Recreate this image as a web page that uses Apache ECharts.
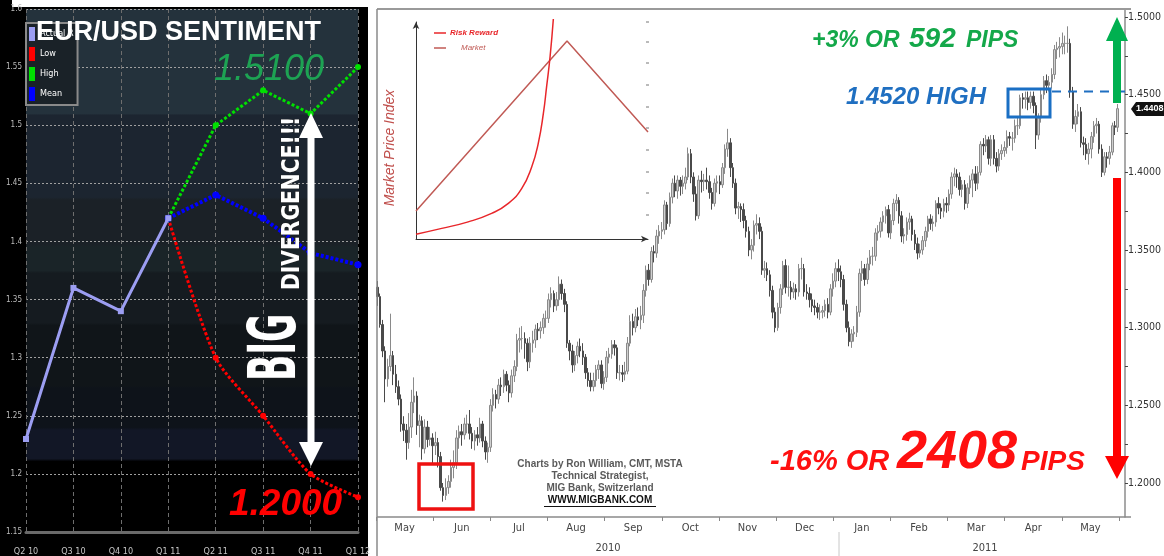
<!DOCTYPE html>
<html><head><meta charset="utf-8">
<script src="https://cdn.jsdelivr.net/npm/echarts@6/dist/echarts.min.js"></script>
<style>html,body{margin:0;padding:0;background:#fff}#c{width:1164px;height:556px}</style>
</head><body><div id="c"></div><script>
// ---------- LEFT PANEL DATA (EUR/USD sentiment) ----------
const quarters = ['Q2 10','Q3 10','Q4 10','Q1 11','Q2 11','Q3 11','Q4 11','Q1 12'];
const actualRate = [1.23, 1.36, 1.34, 1.42, null, null, null, null];
const lowForecast = [null, null, null, 1.42, 1.30, 1.25, 1.20, 1.18];
const highForecast = [null, null, null, 1.42, 1.50, 1.53, 1.51, 1.55];
const meanForecast = [null, null, null, 1.42, 1.44, 1.42, 1.39, 1.38];

// ---------- RIGHT PANEL DATA (daily EUR/USD, [open, close, low, high]) ----------
const may10 = [[1.326,1.320,1.314,1.330],[1.320,1.302,1.300,1.322],[1.302,1.285,1.281,1.305],[1.285,1.267,1.252,1.288],[1.267,1.275,1.262,1.280],[1.275,1.282,1.272,1.309],[1.282,1.270,1.263,1.285],[1.270,1.262,1.258,1.276],[1.262,1.254,1.250,1.266],[1.254,1.238,1.233,1.257],[1.238,1.234,1.227,1.243],[1.234,1.226,1.215,1.238],[1.226,1.236,1.222,1.245],[1.236,1.252,1.229,1.260],[1.252,1.256,1.245,1.268],[1.256,1.237,1.231,1.259],[1.237,1.240,1.223,1.244],[1.240,1.222,1.215,1.243],[1.222,1.236,1.219,1.241],[1.236,1.228,1.223,1.240],[1.228,1.229,1.224,1.236]];
const jun10 = [[1.229,1.224,1.212,1.232],[1.224,1.226,1.218,1.233],[1.226,1.217,1.210,1.229],[1.217,1.197,1.195,1.220],[1.197,1.192,1.188,1.200],[1.192,1.197,1.189,1.203],[1.197,1.201,1.193,1.205],[1.201,1.210,1.197,1.215],[1.210,1.213,1.203,1.221],[1.213,1.229,1.209,1.234],[1.229,1.233,1.222,1.237],[1.233,1.231,1.224,1.238],[1.231,1.238,1.228,1.242],[1.238,1.238,1.232,1.244],[1.238,1.232,1.228,1.247],[1.232,1.227,1.222,1.236],[1.227,1.231,1.221,1.234],[1.231,1.229,1.224,1.236],[1.229,1.238,1.226,1.242],[1.238,1.227,1.223,1.240],[1.227,1.220,1.215,1.230],[1.220,1.223,1.213,1.226]];
const jul10 = [[1.223,1.250,1.220,1.254],[1.250,1.257,1.246,1.261],[1.257,1.254,1.248,1.260],[1.254,1.263,1.251,1.267],[1.263,1.262,1.256,1.268],[1.262,1.270,1.258,1.273],[1.270,1.263,1.259,1.272],[1.263,1.258,1.252,1.266],[1.258,1.269,1.255,1.273],[1.269,1.275,1.265,1.279],[1.275,1.292,1.272,1.296],[1.292,1.293,1.284,1.300],[1.293,1.293,1.286,1.301],[1.293,1.290,1.280,1.297],[1.290,1.278,1.272,1.293],[1.278,1.290,1.274,1.294],[1.290,1.292,1.284,1.298],[1.292,1.299,1.287,1.302],[1.299,1.298,1.292,1.303],[1.298,1.300,1.293,1.304],[1.300,1.306,1.296,1.309],[1.306,1.306,1.300,1.311]];
const aug10 = [[1.306,1.318,1.303,1.322],[1.318,1.322,1.313,1.326],[1.322,1.314,1.310,1.324],[1.314,1.318,1.311,1.323],[1.318,1.328,1.314,1.333],[1.328,1.322,1.318,1.331],[1.322,1.315,1.310,1.325],[1.315,1.290,1.287,1.317],[1.290,1.285,1.279,1.292],[1.285,1.276,1.271,1.289],[1.276,1.282,1.272,1.285],[1.282,1.288,1.277,1.291],[1.288,1.285,1.281,1.293],[1.285,1.281,1.276,1.290],[1.281,1.271,1.267,1.283],[1.271,1.266,1.262,1.274],[1.266,1.262,1.259,1.271],[1.262,1.266,1.259,1.271],[1.266,1.273,1.262,1.276],[1.273,1.276,1.267,1.279],[1.276,1.264,1.261,1.279],[1.264,1.268,1.260,1.272]];
const sep10 = [[1.268,1.281,1.265,1.285],[1.281,1.283,1.277,1.287],[1.283,1.289,1.280,1.292],[1.289,1.287,1.282,1.292],[1.287,1.271,1.267,1.289],[1.271,1.271,1.266,1.276],[1.271,1.270,1.265,1.276],[1.270,1.272,1.266,1.278],[1.272,1.290,1.270,1.294],[1.290,1.304,1.288,1.308],[1.304,1.300,1.295,1.309],[1.300,1.307,1.297,1.312],[1.307,1.305,1.301,1.313],[1.305,1.308,1.299,1.314],[1.308,1.324,1.303,1.328],[1.324,1.337,1.320,1.340],[1.337,1.331,1.327,1.341],[1.331,1.349,1.329,1.352],[1.349,1.348,1.342,1.353],[1.348,1.359,1.345,1.363],[1.359,1.362,1.354,1.366],[1.362,1.363,1.357,1.368]];
const oct10 = [[1.363,1.379,1.360,1.382],[1.379,1.367,1.363,1.381],[1.367,1.384,1.365,1.387],[1.384,1.393,1.380,1.396],[1.393,1.388,1.384,1.398],[1.388,1.395,1.383,1.398],[1.395,1.391,1.385,1.397],[1.391,1.393,1.386,1.398],[1.393,1.397,1.389,1.403],[1.397,1.412,1.395,1.416],[1.412,1.397,1.393,1.415],[1.397,1.386,1.381,1.400],[1.386,1.372,1.369,1.391],[1.372,1.395,1.370,1.398],[1.395,1.394,1.387,1.401],[1.394,1.395,1.388,1.399],[1.395,1.394,1.389,1.403],[1.394,1.387,1.383,1.398],[1.387,1.380,1.376,1.390],[1.380,1.393,1.378,1.396],[1.393,1.394,1.387,1.398]];
const nov10 = [[1.394,1.392,1.386,1.398],[1.392,1.403,1.390,1.406],[1.403,1.415,1.399,1.418],[1.415,1.419,1.410,1.428],[1.419,1.403,1.397,1.422],[1.403,1.393,1.390,1.406],[1.393,1.377,1.373,1.396],[1.377,1.378,1.370,1.381],[1.378,1.376,1.368,1.380],[1.376,1.369,1.364,1.380],[1.369,1.362,1.358,1.372],[1.362,1.350,1.346,1.365],[1.350,1.353,1.344,1.357],[1.353,1.366,1.349,1.369],[1.366,1.367,1.360,1.373],[1.367,1.362,1.357,1.371],[1.362,1.337,1.334,1.365],[1.337,1.338,1.332,1.343],[1.338,1.334,1.330,1.342],[1.334,1.324,1.320,1.337],[1.324,1.310,1.306,1.327],[1.310,1.300,1.297,1.313]];
const dec10 = [[1.300,1.313,1.298,1.316],[1.313,1.325,1.309,1.328],[1.325,1.340,1.321,1.343],[1.340,1.326,1.322,1.344],[1.326,1.326,1.320,1.340],[1.326,1.323,1.318,1.330],[1.323,1.325,1.319,1.329],[1.325,1.323,1.318,1.328],[1.323,1.338,1.320,1.341],[1.338,1.338,1.331,1.345],[1.338,1.323,1.320,1.341],[1.323,1.322,1.318,1.328],[1.322,1.318,1.313,1.326],[1.318,1.314,1.310,1.322],[1.314,1.313,1.308,1.318],[1.313,1.310,1.306,1.316],[1.310,1.310,1.305,1.315],[1.310,1.311,1.306,1.314],[1.311,1.315,1.307,1.318],[1.315,1.310,1.306,1.319],[1.310,1.325,1.308,1.328],[1.325,1.330,1.320,1.335],[1.330,1.338,1.326,1.342]];
const jan11 = [[1.338,1.336,1.330,1.344],[1.336,1.331,1.326,1.340],[1.331,1.315,1.311,1.334],[1.315,1.300,1.297,1.318],[1.300,1.291,1.288,1.304],[1.291,1.296,1.287,1.299],[1.296,1.297,1.291,1.301],[1.297,1.310,1.294,1.314],[1.310,1.335,1.307,1.338],[1.335,1.338,1.330,1.343],[1.338,1.331,1.327,1.341],[1.331,1.341,1.328,1.345],[1.341,1.346,1.337,1.350],[1.346,1.346,1.340,1.352],[1.346,1.361,1.343,1.364],[1.361,1.362,1.356,1.366],[1.362,1.368,1.358,1.371],[1.368,1.372,1.362,1.375],[1.372,1.376,1.367,1.378],[1.376,1.361,1.358,1.379],[1.361,1.369,1.357,1.373]];
const feb11 = [[1.369,1.380,1.366,1.383],[1.380,1.382,1.375,1.386],[1.382,1.372,1.367,1.384],[1.372,1.359,1.355,1.375],[1.359,1.360,1.354,1.364],[1.360,1.368,1.356,1.371],[1.368,1.370,1.363,1.374],[1.370,1.360,1.356,1.372],[1.360,1.354,1.350,1.363],[1.354,1.348,1.344,1.358],[1.348,1.350,1.345,1.354],[1.350,1.356,1.347,1.359],[1.356,1.362,1.352,1.365],[1.362,1.370,1.358,1.372],[1.370,1.367,1.363,1.373],[1.367,1.368,1.362,1.372],[1.368,1.380,1.365,1.382],[1.380,1.377,1.373,1.384],[1.377,1.375,1.370,1.380],[1.375,1.380,1.371,1.383]];
const mar11 = [[1.380,1.379,1.374,1.384],[1.379,1.386,1.375,1.389],[1.386,1.397,1.383,1.400],[1.397,1.399,1.391,1.403],[1.399,1.397,1.390,1.402],[1.397,1.389,1.385,1.400],[1.389,1.392,1.384,1.395],[1.392,1.380,1.376,1.395],[1.380,1.390,1.377,1.393],[1.390,1.395,1.386,1.398],[1.395,1.399,1.384,1.402],[1.399,1.393,1.388,1.404],[1.393,1.400,1.389,1.404],[1.400,1.418,1.398,1.420],[1.418,1.417,1.411,1.422],[1.417,1.421,1.413,1.424],[1.421,1.409,1.405,1.423],[1.409,1.421,1.404,1.424],[1.421,1.409,1.405,1.424],[1.409,1.404,1.400,1.413],[1.404,1.412,1.401,1.415],[1.412,1.414,1.408,1.418],[1.414,1.416,1.410,1.420]];
const apr11 = [[1.416,1.423,1.412,1.427],[1.423,1.422,1.417,1.426],[1.422,1.422,1.414,1.426],[1.422,1.430,1.419,1.434],[1.430,1.430,1.424,1.436],[1.430,1.448,1.428,1.450],[1.448,1.447,1.441,1.451],[1.447,1.448,1.441,1.452],[1.448,1.445,1.440,1.452],[1.445,1.449,1.441,1.452],[1.449,1.443,1.438,1.452],[1.443,1.424,1.415,1.445],[1.424,1.435,1.421,1.438],[1.435,1.450,1.432,1.453],[1.450,1.459,1.447,1.462],[1.459,1.456,1.451,1.463],[1.456,1.458,1.452,1.462],[1.458,1.463,1.454,1.467],[1.463,1.479,1.460,1.482],[1.479,1.480,1.473,1.484],[1.480,1.481,1.474,1.487]];
const may11 = [[1.481,1.483,1.476,1.490],[1.483,1.483,1.476,1.488],[1.483,1.483,1.477,1.494],[1.483,1.452,1.448,1.486],[1.452,1.431,1.428,1.455],[1.431,1.436,1.426,1.440],[1.436,1.439,1.431,1.444],[1.439,1.419,1.416,1.442],[1.419,1.418,1.411,1.423],[1.418,1.412,1.408,1.422],[1.412,1.415,1.405,1.419],[1.415,1.423,1.409,1.426],[1.423,1.430,1.419,1.433],[1.430,1.431,1.425,1.435],[1.431,1.415,1.412,1.433],[1.415,1.400,1.397,1.418],[1.400,1.410,1.398,1.413],[1.410,1.409,1.403,1.413],[1.409,1.413,1.405,1.417],[1.413,1.430,1.411,1.432],[1.430,1.429,1.424,1.433],[1.429,1.441,1.426,1.444]];

const monthLabels = ['May','Jun','Jul','Aug','Sep','Oct','Nov','Dec','Jan','Feb','Mar','Apr','May'];
const yearLabels = ['2010','2011'];
const priceTicks = [1.20, 1.25, 1.30, 1.35, 1.40, 1.45, 1.50];
const minorTicks = [1.20,1.225,1.25,1.275,1.30,1.325,1.35,1.375,1.40,1.425,1.45,1.475,1.50];
const lastPrice = 1.4408;
const highLevel = 1.4520;

// ---------- INSET DATA (concept chart) ----------
const marketLine = [[0, 12.9], [65.1, 91.2], [100, 49.3]];
const riskReward = [[0, 2.2], [11.1, 4.9], [22.5, 7.9], [32.6, 11.8], [39.8, 16.4], [45.6, 23.3], [49.9, 33.3], [52.7, 44.1], [54.9, 57.9], [56.3, 70.2], [57.8, 84.1], [59.2, 101.4]];

const candles = [].concat(may10, jun10, jul10, aug10, sep10, oct10, nov10, dec10, jan11, feb11, mar11, apr11, may11);
const dayCats = candles.map((_, i) => 'd' + i);

const COND = "'Liberation Sans Narrow','DejaVu Sans Condensed','Arial Narrow',sans-serif";
const ARIAL = "'Liberation Sans',Arial,sans-serif";

const chart = echarts.init(document.getElementById('c'), null, {renderer: 'canvas'});

const option = {
  animation: false,
  backgroundColor: '#ffffff',
  legend: {
    data: ['Actual Rate', 'Low', 'High', 'Mean'],
    orient: 'vertical', left: 26, top: 23,
    icon: 'rect', itemWidth: 6, itemHeight: 14, itemGap: 6,
    backgroundColor: '#1a2228', borderColor: '#8a8a8a', borderWidth: 2,
    padding: [4, 4, 4, 3],
    textStyle: {color: '#ffffff', fontSize: 9, fontFamily: COND, width: 38, overflow: 'truncate', ellipsis: ''},
    selectedMode: false
  },
  grid: [
    {left: 26, top: 9, width: 332, height: 523},
    {left: 376, top: 9, width: 749, height: 508},
    {left: 416, top: 22, width: 232, height: 217}
  ],
  xAxis: [
    {gridIndex: 0, type: 'category', data: quarters, boundaryGap: false,
     axisLine: {show: true, lineStyle: {color: '#6a6a6a', width: 3}},
     axisTick: {show: false},
     axisLabel: {color: '#c4c4c4', fontSize: 9, fontFamily: COND, margin: 15},
     splitLine: {show: true, lineStyle: {color: '#6e6e6e', type: [4, 3], width: 1}}},
    {gridIndex: 1, type: 'category', data: dayCats, position: 'bottom',
     axisLine: {show: false}, axisTick: {show: false}, axisLabel: {show: false}, splitLine: {show: false}},
    {gridIndex: 1, type: 'category', data: monthLabels, position: 'bottom', boundaryGap: true,
     axisLine: {show: false},
     axisTick: {show: true, length: 4, lineStyle: {color: '#888'}},
     axisLabel: {color: '#444', fontSize: 11, fontFamily: COND, margin: 6},
     splitLine: {show: false}},
    {gridIndex: 2, type: 'value', min: 0, max: 100,
     axisLine: {show: true, symbol: ['none', 'arrow'], symbolSize: [5, 7], lineStyle: {color: '#333', width: 1}},
     axisTick: {show: false}, axisLabel: {show: false}, splitLine: {show: false}}
  ],
  yAxis: [
    {gridIndex: 0, type: 'value', min: 1.15, max: 1.6, interval: 0.05,
     axisLine: {show: false}, axisTick: {show: false},
     axisLabel: {color: '#bdbdbd', fontSize: 8, fontFamily: COND, margin: 4},
     splitLine: {show: true, lineStyle: {color: '#a0a0a0', type: [2, 2], width: 1}}},
    {gridIndex: 1, type: 'value', position: 'right', offset: 6, min: 1.17811, max: 1.50515,
     axisLine: {show: true, lineStyle: {color: '#8c8c8c', width: 1.5}},
     axisTick: {show: true, customValues: minorTicks, length: 3, lineStyle: {color: '#444'}},
     axisLabel: {customValues: priceTicks, formatter: v => v.toFixed(4), color: '#333', fontSize: 10.5, fontFamily: COND, margin: 3},
     splitLine: {show: false}},
    {gridIndex: 2, type: 'value', min: 0, max: 100,
     axisLine: {show: true, symbol: ['none', 'arrow'], symbolSize: [5, 7], lineStyle: {color: '#333', width: 1}},
     axisTick: {show: false}, axisLabel: {show: false}, splitLine: {show: false}}
  ],
  series: [
    {name: 'Actual Rate', type: 'line', xAxisIndex: 0, yAxisIndex: 0, data: actualRate,
     color: '#9c9ef2', lineStyle: {width: 3, color: '#9c9ef2'}, symbol: 'rect', symbolSize: 6, z: 5},
    {name: 'Low', type: 'line', xAxisIndex: 0, yAxisIndex: 0, data: lowForecast, smooth: 0.25,
     color: '#ff0000', lineStyle: {width: 3, type: [3, 2], color: '#ff0000'}, symbol: 'circle', symbolSize: 6, z: 4},
    {name: 'High', type: 'line', xAxisIndex: 0, yAxisIndex: 0, data: highForecast,
     color: '#00e000', lineStyle: {width: 3, type: [3, 2], color: '#00e000'}, symbol: 'circle', symbolSize: 6, z: 4},
    {name: 'Mean', type: 'line', xAxisIndex: 0, yAxisIndex: 0, data: meanForecast,
     color: '#0000ff', lineStyle: {width: 4, type: [3, 2], color: '#0000ff'}, symbol: 'circle', symbolSize: 7, z: 4},
    {name: 'EURUSD', type: 'candlestick', xAxisIndex: 1, yAxisIndex: 1, data: candles, barWidth: 2,
     itemStyle: {color: '#d0d0d0', color0: '#4a4a4a', borderColor: '#8a8a8a', borderColor0: '#4a4a4a', borderWidth: 1}},
    {name: 'Market', type: 'line', xAxisIndex: 3, yAxisIndex: 2, data: marketLine, symbol: 'none',
     lineStyle: {color: '#c05a55', width: 1.5}},
    {name: 'Risk Reward', type: 'line', xAxisIndex: 3, yAxisIndex: 2, data: riskReward, symbol: 'none', smooth: true, clip: false,
     lineStyle: {color: '#e8262a', width: 1.5}}
  ]
};
chart.setOption(option);

const yHigh = chart.convertToPixel({yAxisIndex: 1}, highLevel);
const yLast = chart.convertToPixel({yAxisIndex: 1}, lastPrice);

const bg = {
  type: 'linear', x: 0, y: 0, x2: 0, y2: 1,
  colorStops: [
    {offset: 0, color: '#24323c'}, {offset: 0.2, color: '#24323c'},
    {offset: 0.203, color: '#1c2530'}, {offset: 0.36, color: '#1c2530'},
    {offset: 0.365, color: '#1b2127'}, {offset: 0.45, color: '#1b2127'},
    {offset: 0.455, color: '#1a2428'}, {offset: 0.5, color: '#1a2428'},
    {offset: 0.505, color: '#151b20'}, {offset: 0.6, color: '#151b20'},
    {offset: 0.605, color: '#101519'}, {offset: 0.72, color: '#101519'},
    {offset: 0.725, color: '#0e131a'}, {offset: 0.8, color: '#0e131a'},
    {offset: 0.805, color: '#121726'}, {offset: 0.86, color: '#121726'},
    {offset: 0.865, color: '#000000'}, {offset: 1, color: '#000000'}
  ]
};

const insetTicks = [22, 42, 63, 85, 107, 128, 150, 172, 193, 215].map(y => ({
  type: 'line', z: 50, silent: true, shape: {x1: 646, y1: y, x2: 649, y2: y}, style: {stroke: '#777', lineWidth: 1}
}));

const graphics = [
  // left panel backgrounds
  {type: 'rect', z: -20, silent: true, shape: {x: 0, y: 7, width: 368, height: 549}, style: {fill: '#000'}},
  {type: 'rect', z: -20, silent: true, shape: {x: 0, y: 0, width: 12, height: 7}, style: {fill: '#000'}},
  {type: 'rect', z: -19, silent: true, shape: {x: 26, y: 9, width: 332, height: 523}, style: {fill: bg}},
  // left panel annotations
  {type: 'text', z: 100, x: 36, y: 33, style: {text: 'EUR/USD SENTIMENT', fill: '#ffffff', font: 'bold 27px ' + ARIAL, textVerticalAlign: 'middle', textAlign: 'left'}},
  {type: 'text', z: 100, x: 214, y: 70, style: {text: '1.5100', fill: '#1da353', font: 'italic 36px ' + ARIAL, textVerticalAlign: 'middle', textAlign: 'left'}},
  {type: 'text', z: 100, x: 229, y: 505, style: {text: '1.2000', fill: '#ff0000', font: 'italic bold 37px ' + ARIAL, textVerticalAlign: 'middle', textAlign: 'left'}},
  {type: 'polygon', z: 100, silent: true, shape: {points: [[311,113],[323,138],[314.5,138],[314.5,442],[323,442],[311,466],[299,442],[307.5,442],[307.5,138],[299,138]]}, style: {fill: '#ffffff'}},
  {type: 'text', z: 100, x: 311, y: 381, rotation: Math.PI / 2, scaleX: 0.58,
   style: {text: 'BIG', fill: '#ffffff', font: 'bold 66px ' + COND, textAlign: 'left', textVerticalAlign: 'bottom', stroke: '#222', lineWidth: 1}},
  {type: 'text', z: 100, x: 305, y: 290, rotation: Math.PI / 2, scaleX: 0.9,
   style: {text: 'DIVERGENCE!!!', fill: '#ffffff', font: 'bold 25px ' + COND, textAlign: 'left', textVerticalAlign: 'bottom', stroke: '#222', lineWidth: 1}},
  // right panel frame
  {type: 'line', z: 50, silent: true, shape: {x1: 377, y1: 9, x2: 1131, y2: 9}, style: {stroke: '#9a9a9a', lineWidth: 2}},
  {type: 'line', z: 50, silent: true, shape: {x1: 377, y1: 9, x2: 377, y2: 556}, style: {stroke: '#8a8a8a', lineWidth: 1.5}},
  {type: 'line', z: 50, silent: true, shape: {x1: 377, y1: 517, x2: 1131, y2: 517}, style: {stroke: '#8a8a8a', lineWidth: 1.5}},
  {type: 'line', z: 50, silent: true, shape: {x1: 839, y1: 532, x2: 839, y2: 556}, style: {stroke: '#c8c8c8', lineWidth: 1}},
  {type: 'text', z: 50, x: 608, y: 548, style: {text: yearLabels[0], fill: '#444', font: '11px ' + COND, textAlign: 'center', textVerticalAlign: 'middle'}},
  {type: 'text', z: 50, x: 985, y: 548, style: {text: yearLabels[1], fill: '#444', font: '11px ' + COND, textAlign: 'center', textVerticalAlign: 'middle'}},
  // inset texts
  {type: 'line', z: 50, silent: true, shape: {x1: 434, y1: 33, x2: 446, y2: 33}, style: {stroke: '#e8262a', lineWidth: 1.5}},
  {type: 'text', z: 50, x: 450, y: 33, style: {text: 'Risk Reward', fill: '#e8262a', font: 'italic bold 8px ' + ARIAL, textVerticalAlign: 'middle'}},
  {type: 'line', z: 50, silent: true, shape: {x1: 434, y1: 48, x2: 446, y2: 48}, style: {stroke: '#c05a55', lineWidth: 1.5}},
  {type: 'text', z: 50, x: 461, y: 48, style: {text: 'Market', fill: '#c05a55', font: 'italic 8px ' + ARIAL, textVerticalAlign: 'middle'}},
  {type: 'text', z: 50, x: 390, y: 148, rotation: Math.PI / 2, style: {text: 'Market Price Index', fill: '#c0504d', font: 'italic 14px ' + ARIAL, textAlign: 'center', textVerticalAlign: 'middle'}},
  ...insetTicks,
  // right annotations
  {type: 'text', z: 100, x: 812, y: 41, style: {text: '+3% OR', fill: '#14a84a', font: 'italic bold 23px ' + ARIAL, textVerticalAlign: 'middle'}},
  {type: 'text', z: 100, x: 909, y: 39, style: {text: '592', fill: '#14a84a', font: 'italic bold 28px ' + ARIAL, textVerticalAlign: 'middle'}},
  {type: 'text', z: 100, x: 966, y: 41, style: {text: 'PIPS', fill: '#14a84a', font: 'italic bold 23px ' + ARIAL, textVerticalAlign: 'middle'}},
  {type: 'text', z: 100, x: 846, y: 97, style: {text: '1.4520 HIGH', fill: '#1f6fc1', font: 'italic bold 24px ' + ARIAL, textVerticalAlign: 'middle'}},
  {type: 'rect', z: 100, silent: true, shape: {x: 1008, y: 89, width: 42, height: 28}, style: {fill: 'none', stroke: '#1a6fc4', lineWidth: 3}},
  {type: 'line', z: 100, silent: true, shape: {x1: 1052, y1: yHigh, x2: 1131, y2: yHigh}, style: {stroke: '#1f6fc1', lineWidth: 2, lineDash: [9, 7]}},
  {type: 'polygon', z: 100, silent: true, shape: {points: [[1117,17],[1128,41],[1121,41],[1121,103],[1113,103],[1113,41],[1106,41]]}, style: {fill: '#00b050'}},
  {type: 'polygon', z: 100, silent: true, shape: {points: [[1113,178],[1121,178],[1121,456],[1129,456],[1117,479],[1105,456],[1113,456]]}, style: {fill: '#ff0000'}},
  {type: 'text', z: 100, x: 770, y: 462, style: {text: '-16% OR', fill: '#ff1010', font: 'italic bold 29px ' + ARIAL, textVerticalAlign: 'middle'}},
  {type: 'text', z: 100, x: 897, y: 453, style: {text: '2408', fill: '#ff1010', font: 'italic bold 54px ' + ARIAL, textVerticalAlign: 'middle'}},
  {type: 'text', z: 100, x: 1021, y: 462, style: {text: 'PIPS', fill: '#ff1010', font: 'italic bold 28px ' + ARIAL, textVerticalAlign: 'middle'}},
  {type: 'rect', z: 100, silent: true, shape: {x: 419, y: 464, width: 54, height: 45}, style: {fill: 'none', stroke: '#ee1111', lineWidth: 3.5}},
  {type: 'text', z: 100, x: 600, y: 464, style: {text: 'Charts by Ron William, CMT, MSTA', fill: '#5a5a5a', font: 'bold 10px ' + ARIAL, textAlign: 'center', textVerticalAlign: 'middle'}},
  {type: 'text', z: 100, x: 600, y: 476, style: {text: 'Technical Strategist,', fill: '#5a5a5a', font: 'bold 10px ' + ARIAL, textAlign: 'center', textVerticalAlign: 'middle'}},
  {type: 'text', z: 100, x: 600, y: 488, style: {text: 'MIG Bank, Switzerland', fill: '#5a5a5a', font: 'bold 10px ' + ARIAL, textAlign: 'center', textVerticalAlign: 'middle'}},
  {type: 'text', z: 100, x: 600, y: 500, style: {text: 'WWW.MIGBANK.COM', fill: '#111', font: 'bold 10px ' + ARIAL, textAlign: 'center', textVerticalAlign: 'middle'}},
  {type: 'line', z: 100, silent: true, shape: {x1: 544, y1: 506.5, x2: 656, y2: 506.5}, style: {stroke: '#111', lineWidth: 1}},
  // last price tag
  {type: 'polygon', z: 100, silent: true, shape: {points: [[1131, yLast], [1136, yLast - 7], [1164, yLast - 7], [1164, yLast + 7], [1136, yLast + 7]]}, style: {fill: '#111'}},
  {type: 'text', z: 101, x: 1136, y: yLast, style: {text: lastPrice.toFixed(4), fill: '#fff', font: 'bold 9px ' + ARIAL, textVerticalAlign: 'middle'}}
];
chart.setOption({graphic: {elements: graphics}});
</script></body></html>
